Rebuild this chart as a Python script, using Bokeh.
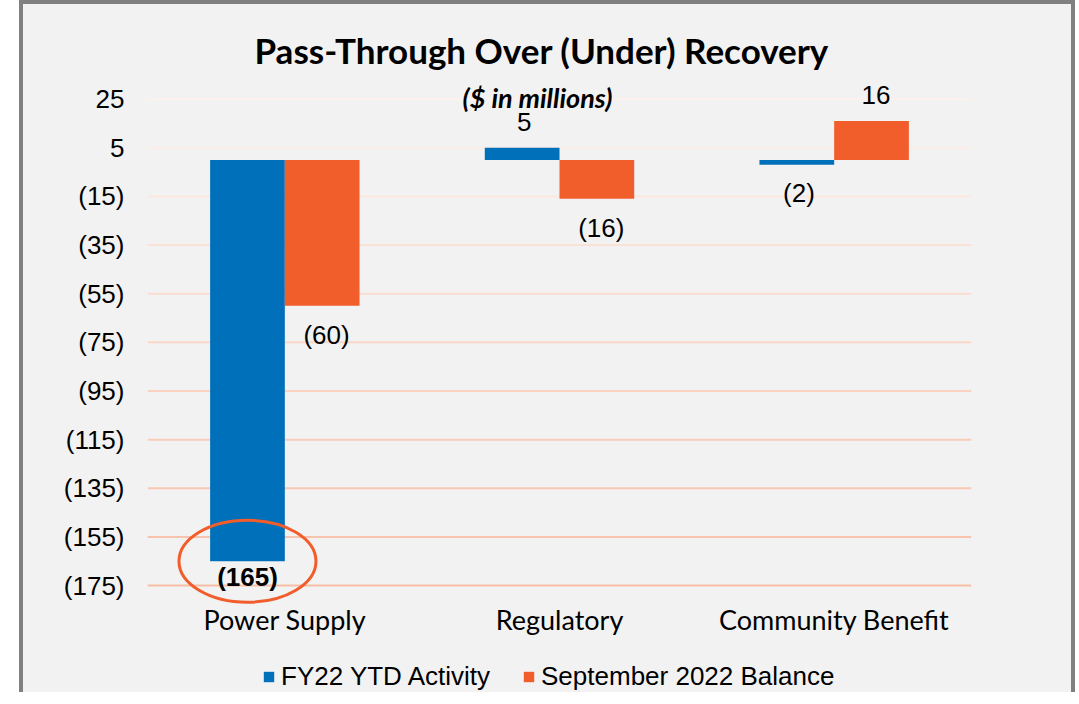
from bokeh.plotting import figure
from bokeh.layouts import column
from bokeh.models import (ColumnDataSource, FactorRange, Range1d, FixedTicker,
                          CustomJSTickFormatter, Legend, LegendItem, Label, Span, Title)
from bokeh.transform import dodge
from bokeh.core.properties import value
from bokeh.embed import file_html
from bokeh.resources import INLINE

categories = ["Power Supply", "Regulatory", "Community Benefit"]
fy22_ytd = [-165, 5, -2]
sep_2022 = [-60, -16, 16]
y_ticks = [25, 5, -15, -35, -55, -75, -95, -115, -135, -155, -175]
series_names = ["FY22 YTD Activity", "September 2022 Balance"]

BLUE = "#0070BA"
ORANGE = "#F15D2B"
BG = "#F2F2F2"
W = 0.272
OFF = W / 2


def fmt(v):
    return "(%d)" % (-v) if v < 0 else "%d" % v


src = ColumnDataSource(dict(
    cat=categories,
    fy=fy22_ytd,
    sep=sep_2022,
    sep_lab=[fmt(v) for v in sep_2022],
    sep_off=[-26 if v > 0 else 29 for v in sep_2022],
))

p = figure(x_range=FactorRange(*categories, range_padding=0), y_range=Range1d(-184, 31),
           width=1048, height=638, output_backend="svg", toolbar_location=None,
           min_border_left=124, min_border_right=100, min_border_top=80, min_border_bottom=35)
p.background_fill_color = BG
p.border_fill_color = BG
p.outline_line_color = None
p.xgrid.grid_line_color = None
p.ygrid.grid_line_color = None

# gridlines, lighter at top
n = len(y_ticks)
c0 = (252, 241, 236)
c1 = (248, 190, 166)
for i, t in enumerate(y_ticks):
    f = i / (n - 1)
    col = "#%02x%02x%02x" % tuple(int(round(a + (b - a) * f)) for a, b in zip(c0, c1))
    p.add_layout(Span(location=t, dimension="width", line_color=col, line_width=2, level="underlay"))

p.vbar(x=dodge("cat", -OFF, range=p.x_range), top="fy", bottom=0, width=W,
       source=src, fill_color=BLUE, line_color=None)
p.vbar(x=dodge("cat", OFF, range=p.x_range), top="sep", bottom=0, width=W,
       source=src, fill_color=ORANGE, line_color=None)

# data labels
lab_font = value("Liberation Sans")
fy_src = ColumnDataSource(dict(cat=categories[1:], v=fy22_ytd[1:], t=[fmt(v) for v in fy22_ytd[1:]],
                               o=[-26 if v > 0 else 28 for v in fy22_ytd[1:]]))
p.text(x=dodge("cat", -OFF + 0.008, range=p.x_range), y="v", text="t", y_offset="o", source=fy_src,
       text_align="center", text_baseline="middle", text_font=lab_font,
       text_font_size="26px", text_color="#000000")
p.text(x=dodge("cat", OFF + 0.016, range=p.x_range), y="sep", text="sep_lab", y_offset="sep_off",
       source=src, text_align="center", text_baseline="middle", text_font=lab_font,
       text_font_size="26px", text_color="#000000")
big_src = ColumnDataSource(dict(cat=categories[:1], v=fy22_ytd[:1], t=[fmt(v) for v in fy22_ytd[:1]]))
p.text(x=dodge("cat", -OFF, range=p.x_range), y="v", text="t", y_offset=16, source=big_src,
       text_align="center", text_baseline="middle", text_font=lab_font,
       text_font_size="26px", text_font_style="bold", text_color="#000000")
p.ellipse(x=dodge("cat", -OFF, range=p.x_range), y="v", width=137, height=82,
          width_units="screen", height_units="screen", source=big_src,
          fill_color=None, line_color=ORANGE, line_width=3)

# subtitle
p.add_layout(Label(x=390, y=510, x_units="screen", y_units="screen", text="($ in millions)",
                   text_align="center", text_baseline="middle", text_font="Lato",
                   text_font_style="bold italic", text_font_size="27px", text_color="#000000"))

# title
p.add_layout(Title(text="Pass-Through Over (Under) Recovery", align="left", offset=107,
                   text_font="Lato", text_font_style="bold", text_font_size="35px",
                   text_color="#000000", standoff=27), "above")

# axes
p.yaxis.ticker = FixedTicker(ticks=y_ticks)
p.yaxis.formatter = CustomJSTickFormatter(code="return tick < 0 ? '(' + (-tick) + ')' : '' + tick;")
p.yaxis.axis_line_color = None
p.yaxis.major_tick_line_color = None
p.yaxis.minor_tick_line_color = None
p.yaxis.major_label_text_font = "Liberation Sans"
p.yaxis.major_label_text_font_size = "26px"
p.yaxis.major_label_text_color = "#000000"
p.yaxis.major_label_standoff = 17

p.xaxis.axis_line_color = None
p.xaxis.major_tick_line_color = None
p.xaxis.minor_tick_line_color = None
p.xaxis.major_label_text_font = "Lato"
p.xaxis.major_label_text_font_size = "27px"
p.xaxis.major_label_text_color = "#000000"
p.xaxis.major_label_standoff = -11

# legend strip below the chart (swatch renderers have zero size, only the legend shows)
q = figure(width=1048, height=50, x_range=Range1d(0, 1), y_range=Range1d(0, 1),
           output_backend="svg", toolbar_location=None, min_border=0)
q.axis.visible = False
q.grid.visible = False
q.outline_line_color = None
q.background_fill_color = BG
q.border_fill_color = BG
sw_src = ColumnDataSource(dict(x=[0], top=[0]))
g1 = q.vbar(x="x", top="top", bottom=0, width=0, source=sw_src, fill_color=BLUE, line_color=None)
g2 = q.vbar(x="x", top="top", bottom=0, width=0, source=sw_src, fill_color=ORANGE, line_color=None)
legend = Legend(items=[LegendItem(label=series_names[0], renderers=[g1]),
                       LegendItem(label=series_names[1], renderers=[g2])],
                orientation="horizontal", location=(115, 0),
                label_text_font="Liberation Sans", label_text_font_size="26px",
                label_text_color="#000000", glyph_width=13, glyph_height=13,
                spacing=32, label_standoff=6, background_fill_alpha=0,
                border_line_color=None, margin=0, padding=1)
q.add_layout(legend, "center")

lay = column(p, q, spacing=0, margin=(0, 0, 0, 19),
             styles={"border-left": "4px solid #808080", "border-top": "4px solid #808080",
                     "border-right": "4px solid #808080", "background-color": BG})

open("out.html", "w").write(file_html(lay, INLINE))
